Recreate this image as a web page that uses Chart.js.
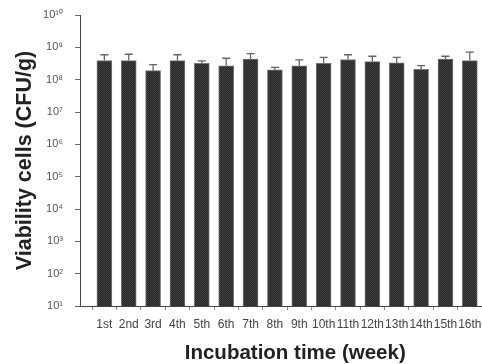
<!DOCTYPE html>
<html>
<head>
<meta charset="utf-8">
<script src="https://cdn.jsdelivr.net/npm/chart.js@4"></script>
<style>
  body { margin: 0; background: #fff; overflow: hidden; }
</style>
</head>
<body>
<canvas id="chart" width="482" height="364"></canvas>
<script>
const weeks = ['1st', '2nd', '3rd', '4th', '5th', '6th', '7th', '8th',
               '9th', '10th', '11th', '12th', '13th', '14th', '15th', '16th'];
const viability = [3.9e8, 3.9e8, 1.9e8, 3.9e8, 3.2e8, 2.7e8, 4.3e8, 2.0e8,
                   2.7e8, 3.2e8, 4.2e8, 3.6e8, 3.3e8, 2.1e8, 4.3e8, 3.9e8];
const errorUp = [2.0e8, 2.2e8, 1.0e8, 2.0e8, 0.6e8, 1.9e8, 2.1e8, 0.4e8,
                 1.4e8, 1.7e8, 1.7e8, 1.7e8, 1.6e8, 0.6e8, 1.0e8, 3.2e8];
const yTickExps = [1, 2, 3, 4, 5, 6, 7, 8, 9, 10];

const sup = '⁰¹²³⁴⁵⁶⁷⁸⁹';
function superscript(n) {
    return String(n).split('').map(d => sup[+d]).join('');
}

// fine checker texture like the original bars
function barPattern() {
    const c = document.createElement('canvas');
    c.width = 2; c.height = 2;
    const g = c.getContext('2d');
    g.fillStyle = '#262626'; g.fillRect(0, 0, 2, 2);
    g.fillStyle = '#404040'; g.fillRect(0, 0, 1, 1); g.fillRect(1, 1, 1, 1);
    return g.createPattern(c, 'repeat');
}

const errorBars = {
    id: 'errorBars',
    afterDatasetsDraw(chart) {
        const ctx = chart.ctx;
        const xs = chart.scales.x, ys = chart.scales.y;
        ctx.save();
        ctx.strokeStyle = '#666';
        ctx.lineWidth = 1.3;
        viability.forEach((v, i) => {
            const x = xs.getPixelForValue(i + 1);
            const y0 = ys.getPixelForValue(v);
            const y1 = ys.getPixelForValue(v + errorUp[i]);
            ctx.beginPath();
            ctx.moveTo(x, y0);
            ctx.lineTo(x, y1);
            ctx.moveTo(x - 4, y1);
            ctx.lineTo(x + 4, y1);
            ctx.stroke();
        });
        ctx.restore();
    }
};

new Chart(document.getElementById('chart'), {
    type: 'bar',
    data: {
        datasets: [{
            data: viability.map((v, i) => ({ x: i + 1, y: v })),
            backgroundColor: barPattern(),
            borderColor: '#777',
            borderWidth: 1,
            barThickness: 15
        }]
    },
    options: {
        responsive: false,
        animation: false,
        layout: { padding: { top: 15, right: 0, left: 0, bottom: 0 } },
        plugins: {
            legend: { display: false },
            tooltip: { enabled: false }
        },
        scales: {
            x: {
                type: 'linear',
                offset: false,
                min: 0,
                max: 16.5,
                afterBuildTicks: s => { s.ticks = weeks.map((w, i) => ({ value: i + 1 })); },
                afterFit: s => { s.height = 58; s.paddingLeft = 0; s.paddingRight = 0; },
                grid: { display: true, drawOnChartArea: false, tickLength: 4, color: '#888' },
                border: { display: true, color: '#444', width: 1 },
                ticks: {
                    autoSkip: false,
                    maxRotation: 0,
                    padding: 7,
                    color: '#444',
                    font: { family: 'Liberation Sans, Arial', size: 12 },
                    callback: v => weeks[v - 1] || ''
                },
                title: {
                    display: true,
                    // leading spaces nudge the centred title right, as in the original
                    text: '     Incubation time (week)',
                    color: '#222',
                    font: { family: 'Liberation Sans, Arial', size: 20.5, weight: 'bold', lineHeight: 1 },
                    padding: { top: 0, bottom: 0 }
                }
            },
            y: {
                type: 'logarithmic',
                min: 10,
                max: 1e10,
                afterBuildTicks: s => { s.ticks = yTickExps.map(e => ({ value: Math.pow(10, e) })); },
                afterFit: s => { s.width = 80; s.paddingTop = 0; s.paddingBottom = 0; },
                grid: { display: true, drawOnChartArea: false, tickLength: 5, color: '#666' },
                border: { display: true, color: '#444', width: 1 },
                ticks: {
                    padding: 12,
                    color: '#555',
                    font: { family: 'Liberation Sans, Arial', size: 11 },
                    callback: v => '10' + superscript(Math.round(Math.log10(v)))
                },
                title: {
                    display: true,
                    text: 'Viability cells (CFU/g)',
                    color: '#222',
                    font: { family: 'Liberation Sans, Arial', size: 21.5, weight: 'bold', lineHeight: 1 },
                    padding: { top: 14, bottom: 0 }
                }
            }
        }
    },
    plugins: [errorBars]
});
</script>
</body>
</html>
